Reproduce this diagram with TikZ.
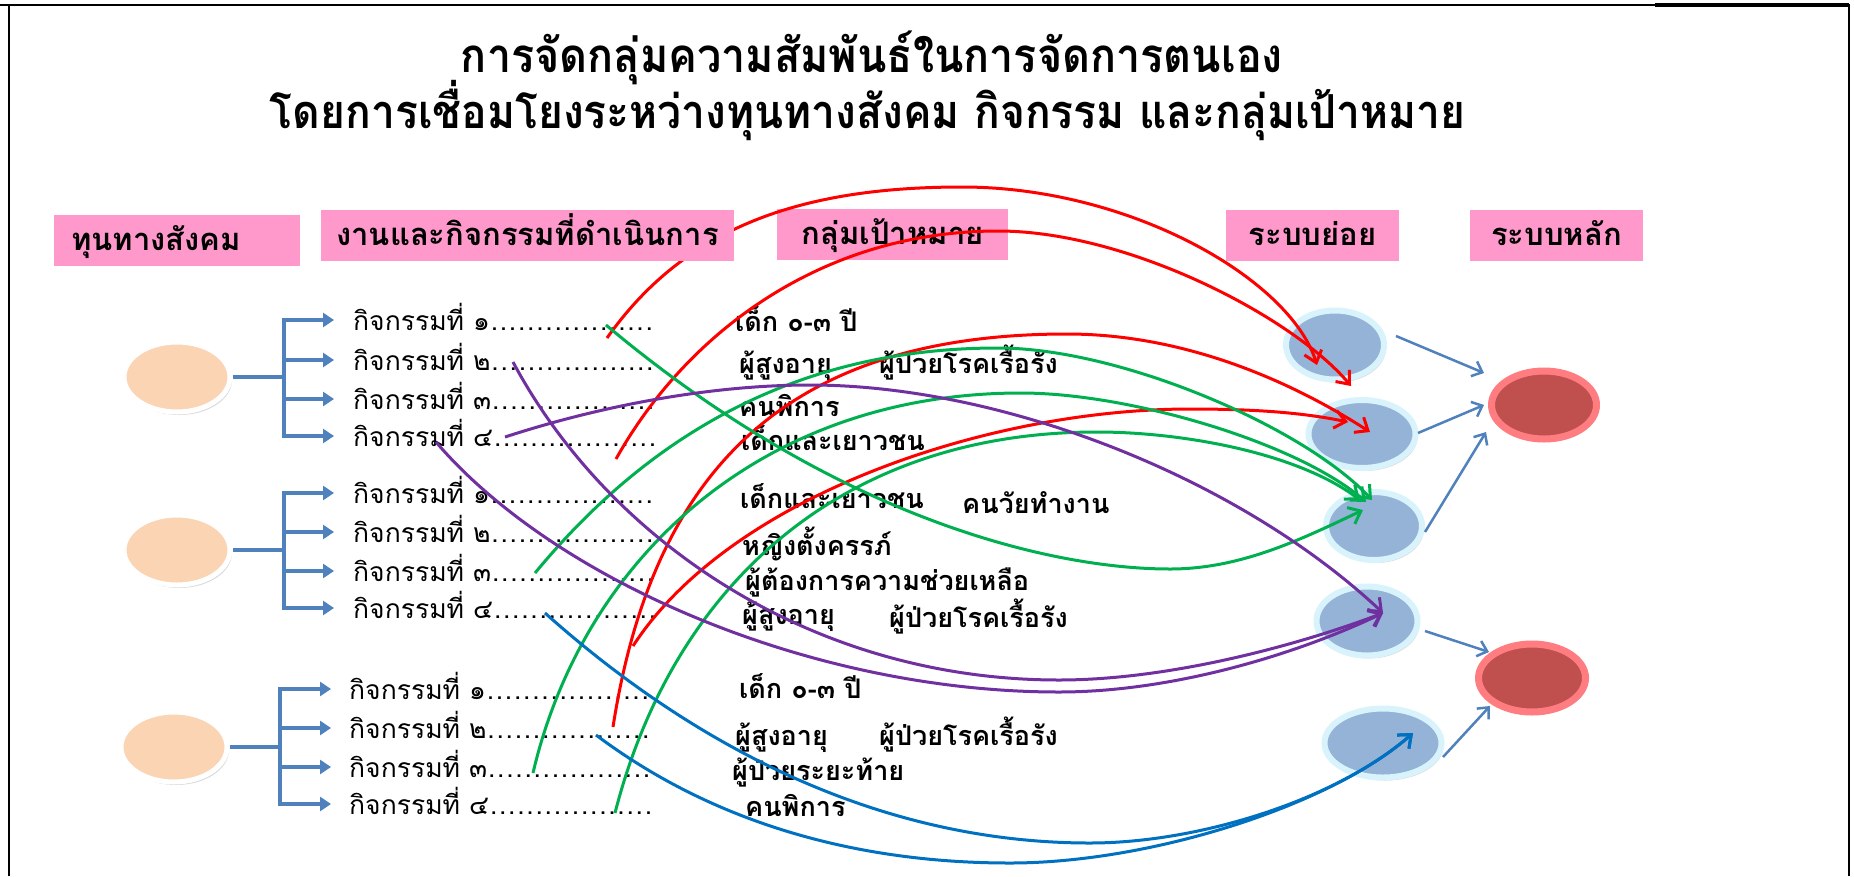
\documentclass[tikz,border=0pt]{standalone}
\usepackage{fontspec}
\newfontfamily\thai[Script=Thai]{Loma}
\usetikzlibrary{shapes.geometric,arrows.meta,shadows,calc}
\definecolor{hdrpink}{HTML}{FF99CC}
\definecolor{peach}{HTML}{FBD4B4}
\definecolor{subblue}{HTML}{95B3D7}
\definecolor{subring}{HTML}{D9F3FC}
\definecolor{mainred}{HTML}{C0504D}
\definecolor{mainring}{HTML}{FF7C80}
\definecolor{branchblue}{HTML}{4F81BD}
\definecolor{cRed}{HTML}{FF0000}
\definecolor{cGreen}{HTML}{00B050}
\definecolor{cPurple}{HTML}{7030A0}
\definecolor{cBlue}{HTML}{0070C0}
\newcommand\rdd{\makebox[9.1pt][c]{.}}
\newcommand\rowdots{\rdd\rdd\rdd\rdd\rdd\rdd\rdd\rdd\rdd\rdd\rdd\rdd\rdd\rdd\rdd\rdd\rdd\rdd}
\begin{document}
\begin{tikzpicture}[x=1pt,y=-1pt,
  hdr/.style={fill=hdrpink, inner sep=0pt, minimum height=51pt, text height=30pt, text depth=10pt, font=\thai\bfseries\fontsize{31}{36}\selectfont},
  titletxt/.style={anchor=base, inner sep=0pt, font=\thai\bfseries\fontsize{38}{46}\selectfont},
  rowtxt/.style={anchor=base west, inner sep=0pt, font=\thai\fontsize{26.5}{31}\selectfont},
  tgt/.style={anchor=base west, inner sep=0pt, font=\thai\bfseries\fontsize{27}{32}\selectfont},
  peachc/.style={ellipse, fill=peach, draw=white, line width=5pt, minimum width=106pt, minimum height=70pt, inner sep=0pt,
     drop shadow={shadow xshift=2pt, shadow yshift=-3pt, opacity=0.25, fill=black!60}},
  subc/.style={ellipse, fill=subblue, draw=subring, line width=6pt, inner sep=0pt,
     drop shadow={shadow xshift=2pt, shadow yshift=-3pt, opacity=0.25, fill=black!60}},
  mainc/.style={ellipse, fill=mainred, draw=mainring, line width=7pt, inner sep=0pt,
     drop shadow={shadow xshift=2pt, shadow yshift=-3pt, opacity=0.25, fill=black!60}},
  branchline/.style={draw=branchblue, line width=4pt},
  brancharr/.style={draw=branchblue, line width=4pt, -{Triangle[length=11pt,width=14pt]}},
  subarr/.style={draw=branchblue, line width=2.5pt, -{Straight Barb[length=9pt,width=16pt]}},
  linkcurve/.style={line width=3pt, -{Straight Barb[length=11pt,width=18pt]}},
  redc/.style={linkcurve, draw=cRed},
  greenc/.style={linkcurve, draw=cGreen},
  purplec/.style={linkcurve, draw=cPurple},
  bluec/.style={linkcurve, draw=cBlue}
]
\useasboundingbox (0,0) rectangle (1854,876);
\fill[white] (0,0) rectangle (1854,876);
% frame
\draw[line width=2pt] (9,876) -- (9,5) -- (1849,5) -- (1849,876);
\draw[line width=2pt] (0,5) -- (9,5);
\draw[line width=4pt] (1655,5) -- (1849,5);

% titles
\node[titletxt] (t1) at (872,72) {\scalebox{1}[1.1]{\resizebox{822pt}{!}{การจัดกลุ่มความสัมพันธ์ในการจัดการตนเอง}}};
\node[titletxt] (t2) at (868,128) {\scalebox{1}[1.1]{\resizebox{1196pt}{!}{โดยการเชื่อมโยงระหว่างทุนทางสังคม กิจกรรม และกลุ่มเป้าหมาย}}};

% headers (below curves)
\node[hdr, minimum width=246pt] (h1) at (177,240.5) {\hspace*{-42pt}ทุนทางสังคม};
\node[hdr, minimum width=231pt] (h3) at (892.5,234.5) {กลุ่มเป้าหมาย};
\node[hdr, minimum width=173pt] (h4) at (1312.5,235.5) {ระบบย่อย};
\node[hdr, minimum width=173pt] (h5) at (1556.5,235.5) {ระบบหลัก};

% social capital circles
\node[peachc] (c1) at (177,377) {};
\node[peachc] (c2) at (177,550) {};
\node[peachc] (c3) at (174,747) {};
\coordinate (b1) at (284,377);
\coordinate (b2) at (284,550);
\coordinate (b3) at (280,747);
\draw[branchline] (c1.east) -- (b1);
\draw[branchline] (c2.east) -- (b2);
\draw[branchline] (c3.east) -- (b3);

\foreach \n/\y/\d in {11/320/๑, 12/360/๒, 13/399/๓, 14/436/๔}{
  \coordinate (a\n) at (334,\y);
  \draw[brancharr] (b1) |- (a\n);
  \node[rowtxt] (r\n) at (353,\y+10) {กิจกรรมที่ \d\rowdots};
}
\foreach \n/\y/\d in {21/493/๑, 22/532/๒, 23/571/๓, 24/608/๔}{
  \coordinate (a\n) at (334,\y);
  \draw[brancharr] (b2) |- (a\n);
  \node[rowtxt] (r\n) at (353,\y+10) {กิจกรรมที่ \d\rowdots};
}
\foreach \n/\y/\d in {31/689/๑, 32/728/๒, 33/767/๓, 34/804/๔}{
  \coordinate (a\n) at (331,\y);
  \draw[brancharr] (b3) |- (a\n);
  \node[rowtxt] (r\n) at (349,\y+10) {กิจกรรมที่ \d\rowdots};
}

% target groups
\node[tgt] (g1) at (735,331) {เด็ก ๐-๓ ปี};
\node[tgt] (g2a) at (739,373) {ผู้สูงอายุ};
\node[tgt] (g2b) at (879,373) {ผู้ป่วยโรคเรื้อรัง};
\node[tgt] (g3) at (739,416) {คนพิการ};
\node[tgt] (g4) at (741,450) {เด็กและเยาวชน};
\node[tgt] (g5a) at (740,508) {เด็กและเยาวชน};
\node[tgt] (g5b) at (962,513) {คนวัยทำงาน};
\node[tgt] (g6) at (742,555) {หญิงตั้งครรภ์};
\node[tgt] (g7) at (745,590) {ผู้ต้องการความช่วยเหลือ};
\node[tgt] (g8a) at (742,624) {ผู้สูงอายุ};
\node[tgt] (g8b) at (889,627) {ผู้ป่วยโรคเรื้อรัง};
\node[tgt] (g9) at (739,698) {เด็ก ๐-๓ ปี};
\node[tgt] (g10a) at (735,745) {ผู้สูงอายุ};
\node[tgt] (g10b) at (879,745) {ผู้ป่วยโรคเรื้อรัง};
\node[tgt] (g11) at (732,780) {ผู้ป่วยระยะท้าย};
\node[tgt] (g12) at (745,816) {คนพิการ};

% subsystems and main systems
\node[subc, minimum width=98pt, minimum height=69pt] (s1) at (1335,345) {};
\node[subc, minimum width=107pt, minimum height=68pt] (s2) at (1362,434) {};
\node[subc, minimum width=96pt, minimum height=68pt] (s3) at (1374,526) {};
\node[subc, minimum width=101pt, minimum height=69pt] (s4) at (1367,621) {};
\node[subc, minimum width=117pt, minimum height=69pt] (s5) at (1383,743) {};
\node[mainc, minimum width=105pt, minimum height=68pt] (m1) at (1544,405) {};
\node[mainc, minimum width=107pt, minimum height=68pt] (m2) at (1532,678) {};

\draw[subarr] ($(s1)+(61,-9)$) -- ($(m1)+(-60,-32)$);
\draw[subarr] ($(s2)+(56,-1)$) -- ($(m1)+(-60,0)$);
\draw[subarr] ($(s3)+(51,6)$) -- ($(m1)+(-58,27)$);
\draw[subarr] ($(s4)+(58,10)$) -- ($(m2)+(-43,-26)$);
\draw[subarr] ($(s5)+(60,14)$) -- ($(m2)+(-42,28)$);

% curve end points
\coordinate (sR1) at (607,338);
\coordinate (sR2) at (616,459);
\coordinate (sR3) at (613,727);
\coordinate (sR4) at (633,646);
\coordinate (sG1) at (606,325);
\coordinate (sG2) at (535,573);
\coordinate (sG3) at (533,773);
\coordinate (sG4) at (615,813);
\coordinate (sP1) at (513,362);
\coordinate (sP2) at (436,442);
\coordinate (sP3) at (505,437);
\coordinate (sB1) at (545,613);
\coordinate (sB2) at (596,735);
\coordinate (tR1) at ($(s1)+(-18,20)$);
\coordinate (tR2) at ($(s1)+(16,41)$);
\coordinate (tR3) at ($(s2)+(8,-2)$);
\coordinate (tR4) at ($(s2)+(-14,-12)$);
\coordinate (tG1) at ($(s3)+(-11,-16)$);
\coordinate (tG2) at ($(s3)+(-2,-26)$);
\coordinate (tG3) at ($(s3)+(-8,-24)$);
\coordinate (tG4) at ($(s3)+(-14,-26)$);
\coordinate (tP) at ($(s4)+(16,-8)$);
\coordinate (tB) at ($(s5)+(30,-10)$);

% curves
\draw[redc] (sR1) .. controls (682,232) and (792,187) .. (962,187) .. controls (1130,187) and (1290,279) .. (tR1);
\draw[redc] (sR2) .. controls (684,337) and (818,231) .. (998,231) .. controls (1128,231) and (1293,317) .. (tR2);
\draw[redc] (sR3) .. controls (653,470) and (787,334) .. (1067,334) .. controls (1187,334) and (1294,383) .. (tR3);
\draw[redc] (sR4) .. controls (731,495) and (990,409) .. (1190,409) .. controls (1250,409) and (1300,412) .. (tR4);
\draw[greenc] (sG1) .. controls (836,518) and (1050,569) .. (1170,569) .. controls (1240,569) and (1300,540) .. (tG1);
\draw[greenc] (sG2) .. controls (650,434) and (798,348) .. (998,348) .. controls (1120,348) and (1304,427) .. (tG2);
\draw[greenc] (sG3) .. controls (583,559) and (761,393) .. (1021,393) .. controls (1130,393) and (1298,443) .. (tG3);
\draw[greenc] (sG4) .. controls (672,590) and (837,432) .. (1097,432) .. controls (1180,432) and (1296,452) .. (tG4);
\draw[purplec] (sP1) .. controls (607,538) and (809,680) .. (1059,680) .. controls (1170,680) and (1299,645) .. (tP);
\draw[purplec] (sP2) .. controls (553,579) and (809,692) .. (1059,692) .. controls (1170,692) and (1293,656) .. (tP);
\draw[purplec] (sP3) .. controls (600,406) and (710,385) .. (810,385) .. controls (1000,385) and (1237,476) .. (tP);
\draw[bluec] (sB1) .. controls (695,747) and (880,843) .. (1090,843) .. controls (1200,843) and (1338,799) .. (tB);
\draw[bluec] (sB2) .. controls (716,825) and (860,863) .. (1010,863) .. controls (1150,863) and (1330,806) .. (tB);

% header drawn above the curves
\node[hdr, minimum width=413pt] (h2) at (527.5,235.5) {งานและกิจกรรมที่ดำเนินการ};
\end{tikzpicture}
\end{document}
